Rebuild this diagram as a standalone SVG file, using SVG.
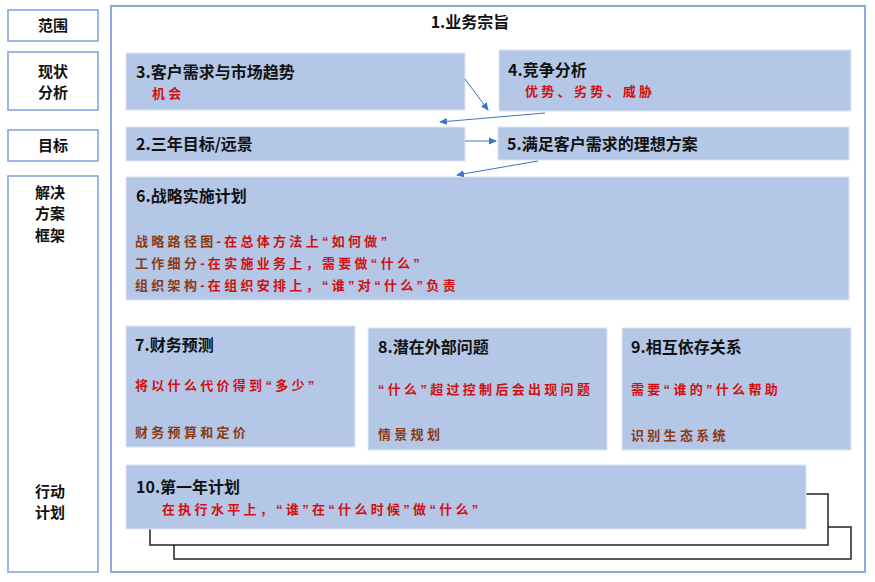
<svg xmlns="http://www.w3.org/2000/svg" width="875" height="582" viewBox="0 0 875 582">
<defs>
<marker id="ah" markerWidth="8" markerHeight="8" refX="7" refY="4" orient="auto" markerUnits="userSpaceOnUse">
<path d="M0,0.5 L8,4 L0,7.5 Z" fill="#4472C4"/>
</marker>
<style>
.lbox{fill:#fff;stroke:#7F9FDA;stroke-width:1.5}
.frame{fill:#fff;stroke:#8EA9DB;stroke-width:2}
.node{fill:#B4C7E7;stroke:#DDE6F4;stroke-width:1}
.lab{font-family:"Noto Sans CJK SC","Noto Sans",sans-serif;font-weight:700;font-size:15px;fill:#111;text-anchor:middle}
.ttl{font-family:"Noto Sans CJK SC","Noto Sans",sans-serif;font-weight:700;font-size:16px;fill:#111}
.red{font-family:"Liberation Sans","Noto Sans CJK SC",sans-serif;font-weight:700;font-size:13px;letter-spacing:3.3px;fill:#D01010}
.brn{font-family:"Liberation Sans","Noto Sans CJK SC",sans-serif;font-weight:700;font-size:13px;letter-spacing:3.3px;fill:#8B3A10}
.shd{fill:#fff;stroke:#222;stroke-width:1.5}
.conn{stroke:#4472C4;stroke-width:1;fill:none;marker-end:url(#ah)}
</style>
</defs>

<g id="left-column">
<rect class="lbox" x="8" y="10" width="90" height="31"/>
<text class="lab" x="53" y="31">范围</text>
<rect class="lbox" x="8" y="52" width="90" height="58"/>
<text class="lab" x="53" y="77">现状</text>
<text class="lab" x="53" y="98">分析</text>
<rect class="lbox" x="8" y="130" width="90" height="31"/>
<text class="lab" x="53" y="151">目标</text>
<rect class="lbox" x="8" y="176" width="90" height="396"/>
<text class="lab" x="50" y="198">解决</text>
<text class="lab" x="50" y="219">方案</text>
<text class="lab" x="50" y="241">框架</text>
<text class="lab" x="50" y="497">行动</text>
<text class="lab" x="50" y="518">计划</text>
</g>

<g id="node1">
<rect class="frame" x="111" y="6" width="754" height="566"/>
<text class="ttl" x="470" y="28" text-anchor="middle">1.业务宗旨</text>
</g>

<g id="node3">
<rect class="node" x="126" y="53" width="339" height="57"/>
<text class="ttl" x="136" y="78">3.客户需求与市场趋势</text>
<text class="red" x="152" y="98">机会</text>
</g>

<g id="node4">
<rect class="node" x="499" y="50" width="352" height="61"/>
<text class="ttl" x="508" y="76">4.竞争分析</text>
<text class="red" x="525" y="96">优势、劣势、威胁</text>
</g>

<g id="node2">
<rect class="node" x="126" y="127" width="339" height="34"/>
<text class="ttl" x="136" y="150">2.三年目标/远景</text>
</g>

<g id="node5">
<rect class="node" x="498" y="127" width="351" height="33"/>
<text class="ttl" x="507" y="150">5.满足客户需求的理想方案</text>
</g>

<g id="node6">
<rect class="node" x="126" y="177" width="723" height="123"/>
<text class="ttl" x="136" y="202">6.战略实施计划</text>
<text x="135" y="246" class="brn">战略路径图<tspan class="red">-在总体方法上“如何做”</tspan></text>
<text x="135" y="268" class="brn">工作细分<tspan class="red">-在实施业务上，需要做“什么”</tspan></text>
<text x="135" y="290" class="brn">组织架构<tspan class="red">-在组织安排上，“谁”对“什么”负责</tspan></text>
</g>

<g id="node7">
<rect class="node" x="126" y="326" width="229" height="121"/>
<text class="ttl" x="135" y="351">7.财务预测</text>
<text class="red" x="135" y="390">将以什么代价得到“多少”</text>
<text class="brn" x="135" y="437">财务预算和定价</text>
</g>

<g id="node8">
<rect class="node" x="368" y="328" width="239" height="122"/>
<text class="ttl" x="378" y="353">8.潜在外部问题</text>
<text class="red" x="378" y="394">“什么”超过控制后会出现问题</text>
<text class="brn" x="378" y="439">情景规划</text>
</g>

<g id="node9">
<rect class="node" x="622" y="328" width="229" height="122"/>
<text class="ttl" x="631" y="353">9.相互依存关系</text>
<text class="red" x="631" y="394">需要“谁的”什么帮助</text>
<text class="brn" x="631" y="440">识别生态系统</text>
</g>

<g id="node10">
<rect class="shd" x="174" y="527" width="677" height="32"/>
<rect class="shd" x="150" y="494" width="678" height="51"/>
<rect class="node" x="126" y="465" width="680" height="64"/>
<text class="ttl" x="136" y="493">10.第一年计划</text>
<text class="red" x="162" y="514">在执行水平上，“谁”在“什么时候”做“什么”</text>
</g>

<g id="connectors">
<line class="conn" x1="465" y1="79" x2="488" y2="110"/>
<line class="conn" x1="545" y1="113" x2="440" y2="122"/>
<line class="conn" x1="465" y1="141" x2="496" y2="141"/>
<line class="conn" x1="538" y1="161" x2="457" y2="175"/>
</g>
</svg>
